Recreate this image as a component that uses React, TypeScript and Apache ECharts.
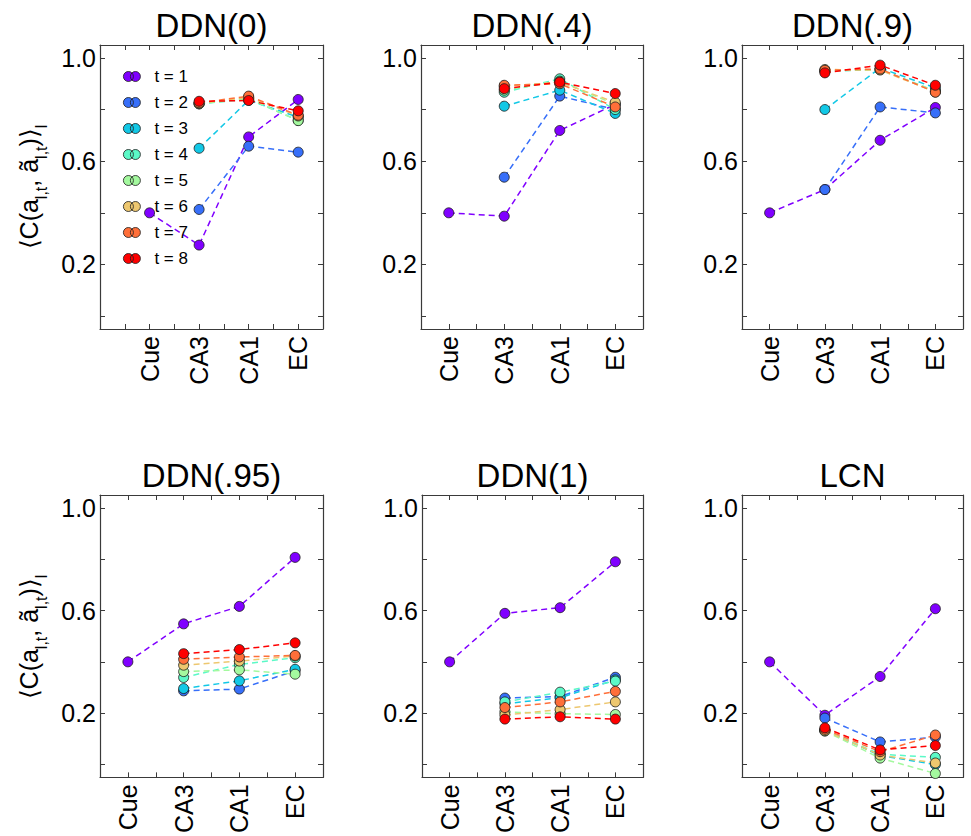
import React, { useEffect, useRef } from "react";
import * as echarts from "echarts";

const categories = ["Cue", "CA3", "CA1", "EC"];
const panelTitles = ["DDN(0)", "DDN(.4)", "DDN(.9)", "DDN(.95)", "DDN(1)", "LCN"];
const seriesNames = ["t = 1", "t = 2", "t = 3", "t = 4", "t = 5", "t = 6", "t = 7", "t = 8"];
const seriesColors = ["#8000ff", "#376ff9", "#12c8e6", "#5bf9c7", "#a4f99f", "#edc76f", "#ff6f39", "#ff0000"];
const yTickValues = [0, 0.2, 0.4, 0.6, 0.8, 1.0];
const yLabelValues = [0.2, 0.6, 1.0];

const ddn0 = [
  [0.4, 0.275, 0.694, 0.839],
  [null, 0.413, 0.658, 0.635],
  [null, 0.65, 0.836, 0.77],
  [null, 0.822, 0.84, 0.758],
  [null, 0.822, 0.843, 0.757],
  [null, 0.824, 0.848, 0.775],
  [null, 0.826, 0.852, 0.778],
  [null, 0.832, 0.835, 0.795],
];
const ddn04 = [
  [0.4, 0.387, 0.719, 0.82],
  [null, 0.538, 0.852, 0.8],
  [null, 0.813, 0.875, 0.785],
  [null, 0.867, 0.919, 0.8],
  [null, 0.875, 0.91, 0.82],
  [null, 0.89, 0.906, 0.828],
  [null, 0.894, 0.9, 0.81],
  [null, 0.881, 0.906, 0.862],
];
const ddn09 = [
  [0.4, 0.49, 0.681, 0.808],
  [null, 0.49, 0.81, 0.787],
  [null, 0.8, 0.961, 0.884],
  [null, 0.948, 0.955, 0.872],
  [null, 0.95, 0.955, 0.87],
  [null, 0.955, 0.953, 0.868],
  [null, 0.952, 0.957, 0.867],
  [null, 0.942, 0.972, 0.894],
];
const ddn095 = [
  [0.4, 0.548, 0.616, 0.807],
  [null, 0.287, 0.294, 0.365],
  [null, 0.296, 0.326, 0.371],
  [null, 0.339, 0.39, 0.416],
  [null, 0.362, 0.369, 0.352],
  [null, 0.387, 0.403, 0.423],
  [null, 0.41, 0.419, 0.425],
  [null, 0.432, 0.448, 0.474],
];
const ddn1 = [
  [0.4, 0.589, 0.611, 0.79],
  [null, 0.259, 0.265, 0.34],
  [null, 0.237, 0.26, 0.33],
  [null, 0.244, 0.282, 0.325],
  [null, 0.205, 0.198, 0.195],
  [null, 0.193, 0.214, 0.244],
  [null, 0.222, 0.244, 0.285],
  [null, 0.177, 0.186, 0.177],
];
const lcn = [
  [0.4, 0.192, 0.343, 0.607],
  [null, 0.181, 0.088, 0.107],
  [null, 0.134, 0.035, 0.0],
  [null, 0.133, 0.04, 0.028],
  [null, 0.13, 0.025, -0.035],
  [null, 0.132, 0.037, 0.006],
  [null, 0.137, 0.05, 0.115],
  [null, 0.143, 0.057, 0.074],
];

const panelData = [ddn0, ddn04, ddn09, ddn095, ddn1, lcn];

const FONT = "'Liberation Sans', Arial, Helvetica, sans-serif";
const AXIS_COLOR = "#3a3a3a";

const grids = [
  { left: 100, top: 45, width: 223, height: 284, xMin: -1 },
  { left: 421, top: 45, width: 222, height: 284, xMin: -0.5 },
  { left: 742, top: 45, width: 221, height: 284, xMin: -0.5 },
  { left: 100, top: 495, width: 223, height: 284, xMin: -0.5 },
  { left: 422, top: 495, width: 221, height: 284, xMin: -0.5 },
  { left: 742, top: 495, width: 221, height: 284, xMin: -0.5 },
];

const legendIcon =
  "path://M0,5a5,5 0 1,0 10,0a5,5 0 1,0 -10,0M7,5a5,5 0 1,0 10,0a5,5 0 1,0 -10,0";

export default function App() {
  const ref = useRef<HTMLDivElement>(null);

  useEffect(() => {
    document.body.style.margin = "0";
    if (!ref.current) return;
    const chart = echarts.init(ref.current, undefined, { renderer: "svg" });

    const xAxes: any[] = [];
    const yAxes: any[] = [];
    const series: any[] = [];
    const graphics: any[] = [];

    grids.forEach((g, i) => {
      const xTicks: number[] = [];
      for (let v = g.xMin; v <= 3.5001; v += 0.5) xTicks.push(Math.round(v * 10) / 10);
      const baseX = {
        gridIndex: i,
        type: "value",
        min: g.xMin,
        max: 3.5,
        splitLine: { show: false },
        axisLine: { show: true, onZero: false, lineStyle: { color: AXIS_COLOR, width: 1.2 } },
        axisTick: { show: true, inside: true, length: 5, customValues: xTicks, lineStyle: { color: AXIS_COLOR } },
      };
      xAxes.push({
        ...baseX,
        position: "bottom",
        axisLabel: {
          show: true,
          customValues: [0, 1, 2, 3],
          formatter: (v: number) => categories[Math.round(v)] ?? "",
          rotate: 90,
          margin: 7,
          fontSize: 25,
          fontFamily: FONT,
          color: "#000",
        },
      });
      xAxes.push({ ...baseX, position: "top", axisLabel: { show: false } });

      const baseY = {
        gridIndex: i,
        type: "value",
        min: -0.05,
        max: 1.05,
        splitLine: { show: false },
        axisLine: { show: true, onZero: false, lineStyle: { color: AXIS_COLOR, width: 1.2 } },
        axisTick: { show: true, inside: true, length: 5, customValues: yTickValues, lineStyle: { color: AXIS_COLOR } },
      };
      yAxes.push({
        ...baseY,
        position: "left",
        axisLabel: {
          show: true,
          customValues: yLabelValues,
          formatter: (v: number) => v.toFixed(1),
          margin: 4,
          fontSize: 25,
          fontFamily: FONT,
          color: "#000",
        },
      });
      yAxes.push({ ...baseY, position: "right", axisLabel: { show: false } });

      panelData[i].forEach((row, t) => {
        const data: number[][] = [];
        row.forEach((v, k) => {
          if (v !== null && v !== undefined) data.push([k, v as number]);
        });
        series.push({
          name: seriesNames[t],
          type: "line",
          xAxisIndex: i * 2,
          yAxisIndex: i * 2,
          data,
          symbol: "circle",
          symbolSize: 10,
          showSymbol: true,
          clip: true,
          color: seriesColors[t],
          lineStyle: { color: seriesColors[t], width: 1.5, type: [6, 4] },
          itemStyle: { color: seriesColors[t], borderColor: "#1a1a1a", borderWidth: 0.8 },
          emphasis: { disabled: true },
          z: 2 + t,
        });
      });

      graphics.push({
        type: "text",
        x: g.left + g.width / 2,
        y: g.top - 20,
        style: {
          text: panelTitles[i],
          align: "center",
          verticalAlign: "middle",
          fontSize: 33,
          fontFamily: FONT,
          fill: "#000",
        },
      });
    });

    const yLabelRich = {
      m: { fontSize: 25, fontFamily: FONT, lineHeight: 28, verticalAlign: "top", fill: "#000", color: "#000" },
      s: {
        fontSize: 16,
        fontFamily: FONT,
        lineHeight: 16,
        verticalAlign: "top",
        padding: [17, 0, 0, 0],
        fill: "#000",
        color: "#000",
      },
    };
    [187, 637].forEach((cy) => {
      graphics.push({
        type: "text",
        x: 30,
        y: cy,
        rotation: Math.PI / 2,
        style: {
          text: "{m|⟨C(a}{s|l,t}{m|, ã}{s|l,t}{m|)⟩}{s|l}",
          rich: yLabelRich,
          align: "center",
          verticalAlign: "middle",
          fill: "#000",
        },
      });
    });

    chart.setOption({
      animation: false,
      backgroundColor: "#fff",
      grid: grids.map((g) => ({ left: g.left, top: g.top, width: g.width, height: g.height, containLabel: false })),
      xAxis: xAxes,
      yAxis: yAxes,
      legend: {
        data: seriesNames,
        orient: "vertical",
        left: 118,
        top: 63,
        itemWidth: 17,
        itemHeight: 10,
        itemGap: 9,
        icon: legendIcon,
        selectedMode: false,
        itemStyle: { borderColor: "#1a1a1a", borderWidth: 0.8 },
        textStyle: { fontSize: 17, fontFamily: FONT, color: "#000", padding: [0, 0, 0, 9] },
      },
      series,
      graphic: graphics,
    });

    return () => chart.dispose();
  }, []);

  return <div ref={ref} style={{ width: 971, height: 836 }} />;
}
